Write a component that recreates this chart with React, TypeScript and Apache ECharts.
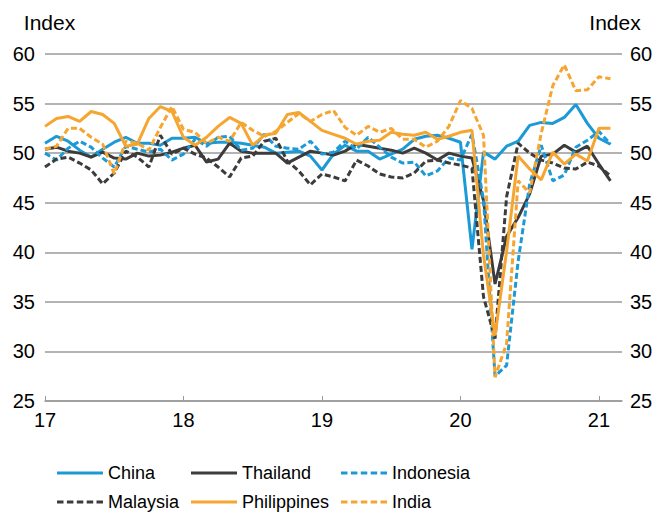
import React, { useEffect, useRef } from "react";
import * as echarts from "echarts";

const yearLabels = ["17", "18", "19", "20", "21"];
// 51 monthly slots: Jan 2017 .. Mar 2021
const months: string[] = [];
for (let y = 0; y < 5; y++) {
  for (let m = 1; m <= 12; m++) {
    if (months.length < 51) months.push(`20${yearLabels[y]}-${String(m).padStart(2, "0")}`);
  }
}

const china = [
  51.0, 51.7, 51.2, 50.3, 49.6, 50.4, 51.1, 51.6, 51.0, 51.0, 50.8, 51.5,
  51.5, 51.6, 51.0, 51.1, 51.1, 51.0, 50.8, 50.6, 50.0, 50.1, 50.2, 49.7,
  48.3, 49.9, 50.8, 50.2, 50.2, 49.4, 49.9, 50.4, 51.4, 51.7, 51.8, 51.5,
  51.1, 40.3, 50.1, 49.4, 50.7, 51.2, 52.8, 53.1, 53.0, 53.6, 54.9, 53.0,
  51.5, 50.9,
];
const thailand = [
  50.4, 50.6, 50.2, 50.0, 49.6, 50.1, 49.5, 49.4, 50.0, 49.7, 49.8, 50.1,
  50.5, 50.8, 49.1, 49.4, 51.0, 50.2, 50.0, 50.0, 50.0, 49.0, 49.6, 50.2,
  50.0, 49.8, 50.2, 50.9, 50.7, 50.5, 50.3, 50.0, 50.5, 50.0, 49.3, 50.0,
  49.7, 49.5, 45.2, 36.8, 41.6, 43.5, 45.9, 49.7, 49.9, 50.8, 50.1, 50.7,
  48.9, 47.2,
];
const indonesia = [
  50.0, 49.3, 50.5, 51.2, 50.6, 49.5, 48.6, 50.7, 50.4, 50.1, 50.4, 49.3,
  49.9, 51.4, 50.7, 51.6, 51.7, 50.3, 50.5, 51.9, 50.7, 50.5, 50.4, 51.2,
  49.9, 50.1, 51.2, 50.4, 51.6, 50.6, 49.6, 49.0, 49.1, 47.7, 48.2, 49.5,
  49.3, 51.9, 45.3, 27.5, 28.6, 39.1, 46.9, 50.8, 47.2, 47.8, 50.6, 51.3,
  52.2, 50.9,
];
const malaysia = [
  48.6, 49.4, 49.6, 49.0, 48.3, 46.9, 48.0, 50.2, 49.6, 48.6, 51.8, 49.9,
  50.5, 49.9, 49.5, 48.6, 47.6, 49.5, 49.7, 51.2, 51.5, 49.2, 48.2, 46.8,
  47.9, 47.6, 47.2, 49.3, 48.7, 47.9, 47.6, 47.5, 48.0, 49.2, 49.3, 49.0,
  48.8, 48.5, 35.5, 31.3, 45.6, 51.0, 50.0, 49.3, 49.0, 48.5, 48.4, 49.1,
  48.7, 47.7,
];
const philippines = [
  52.7, 53.5, 53.7, 53.2, 54.2, 53.9, 53.0, 50.7, 50.9, 53.5, 54.7, 54.2,
  51.6, 50.8, 51.6, 52.7, 53.6, 53.0, 50.8, 51.8, 52.0, 53.9, 54.1, 53.2,
  52.3, 51.9, 51.5, 50.9, 51.2, 51.3, 52.1, 51.9, 51.8, 52.1, 51.4, 51.7,
  52.1, 52.3, 39.7, 31.6, 40.1, 49.7, 48.4, 47.3, 50.1, 48.9, 49.9, 49.2,
  52.5, 52.5,
];
const india = [
  50.4, 50.7, 52.5, 52.5, 51.6, 50.9, 47.9, 51.2, 51.0, 50.3, 52.6, 54.7,
  52.4, 52.1, 51.0, 51.6, 51.2, 53.1, 52.3, 51.7, 52.2, 53.1, 54.0, 53.2,
  53.9, 54.3, 52.6, 51.8, 52.7, 52.1, 52.5, 51.4, 51.4, 50.6, 51.2, 52.7,
  55.3, 54.5, 51.8, 27.4, 30.8, 47.2, 46.0, 52.0, 56.8, 58.9, 56.3, 56.4,
  57.7, 57.5,
];

const BLUE = "#1C9AD6";
const DARK = "#3C3C3C";
const ORANGE = "#F5A530";
const GRID = "#9a9a9a";
const FONT = "'Liberation Sans', Arial, sans-serif";
const DASH = [6, 3];
const SOLID_ICON = "path://M0,0h46v3h-46z";
const DASH_ICON =
  "path://M0,0h6.5v3h-6.5z M9.9,0h6.5v3h-6.5z M19.8,0h6.5v3h-6.5z M29.7,0h6.5v3h-6.5z M39.5,0h6.5v3h-6.5z";

export default function App() {
  const ref = useRef<HTMLDivElement>(null);
  useEffect(() => {
    if (!ref.current) return;
    const chart = echarts.init(ref.current, undefined, { renderer: "svg" });
    const isYear = (i: number) => i % 12 === 0;
    const mk = (name: string, data: number[], color: string, dashed: boolean) => ({
      name,
      type: "line",
      data,
      symbol: "none",
      showSymbol: false,
      itemStyle: { color },
      lineStyle: { color, width: 3, type: dashed ? DASH : "solid" },
    });
    const legendBase = {
      orient: "vertical",
      top: 463,
      height: 50,
      padding: 0,
      itemGap: 9,
      itemWidth: 46,
      itemHeight: 3,
      textStyle: { fontSize: 18, color: "#000", fontFamily: FONT, lineHeight: 20 },
    };
    const yBase = {
      type: "value",
      min: 25,
      max: 60,
      interval: 5,
      name: "Index",
      nameLocation: "end",
      nameGap: 21,
      axisLine: { show: false },
      axisTick: { show: false },
    };
    chart.setOption({
      animation: false,
      grid: { left: 45, right: 37, top: 54, bottom: 112 },
      xAxis: {
        type: "category",
        data: months,
        boundaryGap: false,
        axisLine: { lineStyle: { color: GRID, width: 1.5 } },
        axisTick: { inside: true, length: 5, interval: (i: number) => isYear(i), lineStyle: { color: GRID, width: 1 } },
        axisLabel: {
          interval: (i: number) => isYear(i),
          formatter: (_v: string, i: number) => (isYear(i) ? yearLabels[i / 12] : ""),
          fontSize: 20,
          color: "#000",
          fontFamily: FONT,
          margin: 9,
        },
        splitLine: { show: false },
      },
      yAxis: [
        {
          ...yBase,
          position: "left",
          nameTextStyle: { fontSize: 21, color: "#000", fontFamily: FONT, padding: [0, 0, 0, 9] },
          axisLabel: { fontSize: 20, color: "#000", fontFamily: FONT, margin: 10 },
          splitLine: { show: true, lineStyle: { color: GRID, width: 1.5 } },
        },
        {
          ...yBase,
          position: "right",
          nameTextStyle: { fontSize: 21, color: "#000", fontFamily: FONT, padding: [0, 14, 0, 0] },
          axisLabel: { fontSize: 20, color: "#000", fontFamily: FONT, margin: 8 },
          splitLine: { show: false },
        },
      ],
      legend: [
        {
          ...legendBase,
          left: 57,
          data: [
            { name: "China", icon: SOLID_ICON },
            { name: "Malaysia", icon: DASH_ICON },
          ],
        },
        {
          ...legendBase,
          left: 191,
          data: [
            { name: "Thailand", icon: SOLID_ICON },
            { name: "Philippines", icon: SOLID_ICON },
          ],
        },
        {
          ...legendBase,
          left: 341,
          data: [
            { name: "Indonesia", icon: DASH_ICON },
            { name: "India", icon: DASH_ICON },
          ],
        },
      ],
      series: [
        mk("China", china, BLUE, false),
        mk("Thailand", thailand, DARK, false),
        mk("Indonesia", indonesia, BLUE, true),
        mk("Malaysia", malaysia, DARK, true),
        mk("Philippines", philippines, ORANGE, false),
        mk("India", india, ORANGE, true),
      ],
    });
    return () => chart.dispose();
  }, []);
  return (
    <div
      ref={ref}
      style={{ position: "fixed", left: 0, top: 0, width: 659, height: 513, background: "#fff" }}
    />
  );
}
